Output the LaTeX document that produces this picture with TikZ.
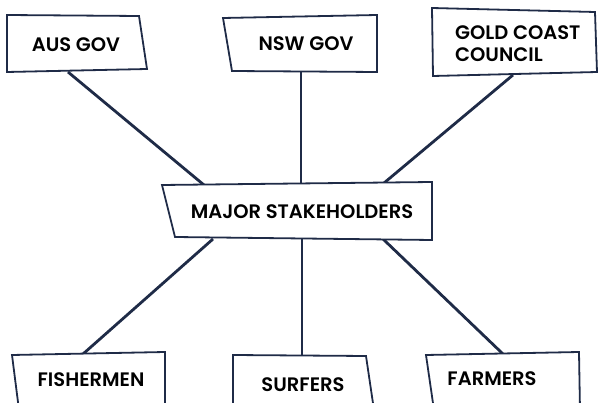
\documentclass[tikz,border=0pt]{standalone}
\usepackage{fontspec}
\setmainfont{Poppins}[BoldFont={Poppins SemiBold}]
\definecolor{navy}{HTML}{1F2B47}
\begin{document}
\begin{tikzpicture}[x=1pt,y=-1pt,
  boxline/.style={draw=navy,line width=1.8pt,line join=miter,fill=white},
  conn/.style={draw=navy,line width=2.8pt},
  lbl/.style={font=\fontsize{19.5}{22}\selectfont\bfseries,text=black,inner sep=0pt,align=left}]
\useasboundingbox (0,0) rectangle (598,403);
% connectors
\coordinate (ausB) at (68,72);
\coordinate (nswB) at (301,71);
\coordinate (gcB) at (513,75);
\coordinate (mTL) at (204,185);
\coordinate (mTC) at (301,184);
\coordinate (mTR) at (384,183);
\coordinate (mBL) at (213,239);
\coordinate (mBC) at (302,239);
\coordinate (mBR) at (383,239);
\coordinate (fishT) at (83,354);
\coordinate (surfT) at (302,356);
\coordinate (farmT) at (503,354);
\draw[conn] (ausB) -- (mTL);
\draw[conn] (nswB) -- (mTC);
\draw[conn] (gcB) -- (mTR);
\draw[conn] (mBL) -- (fishT);
\draw[conn] (mBC) -- (surfT);
\draw[conn] (mBR) -- (farmT);
% boxes
\draw[boxline] (7,15) -- (139,16) -- (147,69) -- (7,72) -- cycle;
\draw[boxline] (223,18) -- (377,15) -- (377,72) -- (232,71) -- cycle;
\draw[boxline] (432,8) -- (595,12) -- (597,72) -- (433,76) -- cycle;
\draw[boxline] (162,185) -- (432,182) -- (432,240) -- (175,237) -- cycle;
\draw[boxline] (12,355) -- (165,352) -- (165,410) -- (19,410) -- cycle;
\draw[boxline] (233,355) -- (366,356) -- (374,410) -- (233,410) -- cycle;
\draw[boxline] (426,355) -- (579,352) -- (580,410) -- (434,410) -- cycle;
% labels
\node[lbl] (aus) at (76,45) {AUS GOV};
\node[lbl] (nsw) at (306,44) {NSW GOV};
\node[lbl,anchor=west] (gc) at (455,44) {GOLD COAST\\COUNCIL};
\node[lbl] (main) at (302,212) {MAJOR STAKEHOLDERS};
\node[lbl] (fish) at (91,380) {FISHERMEN};
\node[lbl] (surf) at (303,385) {SURFERS};
\node[lbl] (farm) at (492,379) {FARMERS};
\end{tikzpicture}
\end{document}
